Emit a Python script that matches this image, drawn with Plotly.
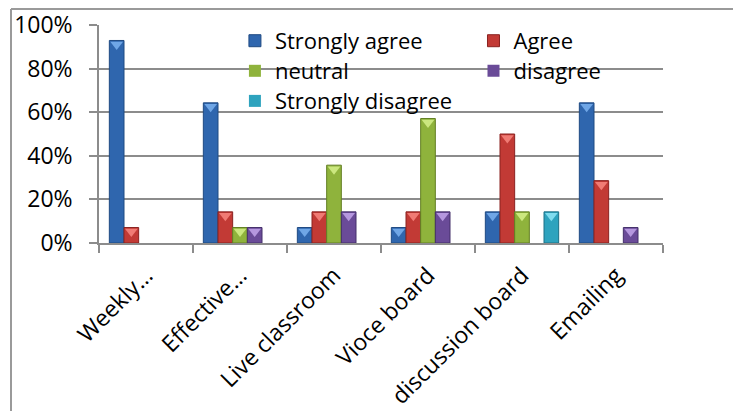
import plotly.graph_objects as go

# Survey responses (% of respondents) per communication tool
categories = ["Weekly…", "Effective…", "Live classroom", "Vioce board", "discussion board", "Emailing"]
strongly_agree = [92.9, 64.3, 7.1, 7.1, 14.3, 64.3]
agree = [7.1, 14.3, 14.3, 14.3, 50.0, 28.6]
neutral = [0, 7.1, 35.7, 57.1, 14.3, 0]
disagree = [0, 7.1, 14.3, 14.3, 0, 7.1]
strongly_disagree = [0, 0, 0, 0, 14.3, 0]

# name, values, fill, edge, bevel highlight, legend box
series = [
    ("Strongly agree", strongly_agree, "#2f66ae", "#1f4a82", "#6fa6e6", "legend"),
    ("Agree", agree, "#c23a35", "#8a2220", "#f07b74", "legend2"),
    ("neutral", neutral, "#8fb33c", "#637f24", "#cbe77f", "legend3"),
    ("disagree", disagree, "#6a4b98", "#45306a", "#b597de", "legend4"),
    ("Strongly disagree", strongly_disagree, "#2ea3be", "#1d7086", "#80dcef", "legend5"),
]

FONT = "Open Sans, Calibri, sans-serif"
FS = 23
LEG_FS = 22
GRID = "#8c8c8c"
GAP = 0.22

fig = go.Figure()
for name, vals, color, edge, hi, lg in series:
    fig.add_trace(go.Bar(
        name=name, x=categories, y=vals, legend=lg,
        marker=dict(color=color,
                    line=dict(color=edge, width=[1 if v else 0 for v in vals])),
    ))
# bevelled caps at the top of each bar
for name, vals, color, edge, hi, lg in series:
    fig.add_trace(go.Scatter(
        x=categories, y=[v if v else None for v in vals], mode="markers",
        showlegend=False, hoverinfo="skip",
        marker=dict(symbol="triangle-down", angle=0, standoff=4, size=11,
                    color=hi, line=dict(width=0)),
    ))


def legend_box(x, y):
    return dict(x=x, xanchor="left", y=y, yanchor="middle",
                bgcolor="rgba(0,0,0,0)", font=dict(family=FONT, size=LEG_FS),
                tracegroupgap=0, itemwidth=30)


# two columns, three rows of legend entries
COL1, COL2 = 0.241, 0.664
ROW1, ROW2, ROW3 = 0.927, 0.789, 0.651

fig.update_layout(
    width=733, height=411,
    margin=dict(l=99, r=70, t=25, b=168, autoexpand=False),
    paper_bgcolor="white", plot_bgcolor="white",
    barmode="group", bargap=GAP, bargroupgap=0,
    scattermode="group", scattergap=GAP,
    font=dict(family=FONT, size=FS, color="black"),
    showlegend=True,
    legend=legend_box(COL1, ROW1),
    legend2=legend_box(COL2, ROW1),
    legend3=legend_box(COL1, ROW2),
    legend4=legend_box(COL2, ROW2),
    legend5=legend_box(COL1, ROW3),
)

fig.update_yaxes(
    range=[0, 100], dtick=20, ticksuffix="%", automargin=False,
    showgrid=True, gridcolor=GRID, gridwidth=1.5,
    showline=True, linecolor=GRID, linewidth=1.5,
    ticks="outside", ticklen=8, tickcolor=GRID, tickwidth=1.5,
    ticklabelstandoff=12, zeroline=False,
    tickfont=dict(family=FONT, size=FS),
)
fig.update_xaxes(
    tickangle=-45, tickson="boundaries", automargin=False,
    showline=True, linecolor=GRID, linewidth=1.5,
    ticks="outside", ticklen=8, tickcolor=GRID, tickwidth=1.5,
    ticklabelstandoff=8,
    tickfont=dict(family=FONT, size=FS),
)

# Outer chart frame (left and top edges)
fx = (11 - 99) / 564
fy = (243 - 9) / 218
fig.add_shape(type="line", xref="paper", yref="paper",
              x0=fx, x1=fx, y0=-1, y1=fy, line=dict(color="#9a9a9a", width=2))
fig.add_shape(type="line", xref="paper", yref="paper",
              x0=fx, x1=(733 - 99) / 564, y0=fy, y1=fy, line=dict(color="#9a9a9a", width=2))

fig.write_html("out.html")
